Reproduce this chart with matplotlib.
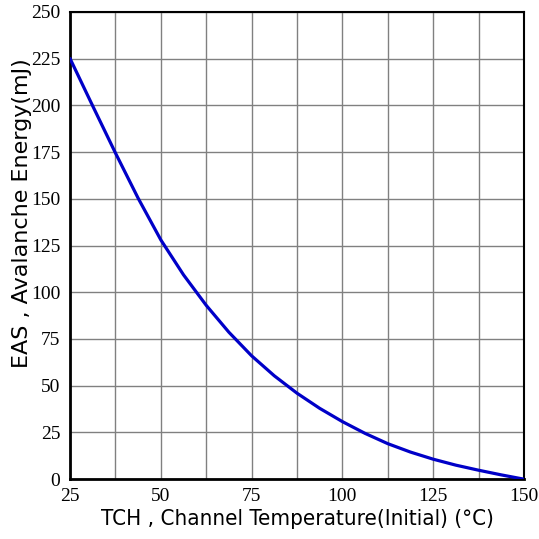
import matplotlib
matplotlib.use("Agg")
import matplotlib.pyplot as plt
from matplotlib.ticker import MultipleLocator
from matplotlib import font_manager as fm

# Data
temp_c = [25, 31.25, 37.5, 43.75, 50, 56.25, 62.5, 68.75, 75, 81.25, 87.5,
          93.75, 100, 106.25, 112.5, 118.75, 125, 131.25, 137.5, 143.75, 150]
eas_mj = [225, 199.6, 174.5, 150.3, 128, 109.3, 93, 78.6, 66, 55.3, 46,
          37.9, 30.8, 24.5, 19, 14.5, 10.7, 7.5, 4.8, 2.3, 0]
x_ticks = [25, 50, 75, 100, 125, 150]
y_ticks = [0, 25, 50, 75, 100, 125, 150, 175, 200, 225, 250]

fig = plt.figure(figsize=(5.39, 5.39), dpi=100)
ax = fig.add_axes([0.130, 0.111, 0.842, 0.867])

ax.plot(temp_c, eas_mj, color="#0000C8", lw=2.3, zorder=3,
        solid_joinstyle="round", solid_capstyle="round")

ax.set_xlim(25, 150)
ax.set_ylim(0, 250)
ax.set_xticks(x_ticks)
ax.set_yticks(y_ticks)
ax.xaxis.set_minor_locator(MultipleLocator(12.5))
ax.grid(True, which="both", color="#808080", lw=1.0)
ax.tick_params(which="both", length=0)
ax.tick_params(axis="x", pad=6)
ax.tick_params(axis="y", pad=7)

for lab in ax.get_xticklabels() + ax.get_yticklabels():
    lab.set_fontfamily(["Liberation Serif"])
    lab.set_fontsize(14)

for s in ["left", "bottom"]:
    ax.spines[s].set_linewidth(2.0)
for s in ["top", "right"]:
    ax.spines[s].set_linewidth(1.5)

# condensed sans for the x label if available
cond_path = fm.findfont(fm.FontProperties(family="DejaVu Sans", stretch="condensed"))
if "Condensed" in cond_path:
    xl_kw = dict(family=["DejaVu Sans"], fontstretch="condensed", fontsize=16)
else:
    xl_kw = dict(family=["DejaVu Sans"], fontsize=13.2)

ax.set_xlabel("TCH , Channel Temperature(Initial) (°C)", labelpad=3, **xl_kw)
ax.set_ylabel("EAS , Avalanche Energy(mJ)", family=["DejaVu Sans"], fontsize=16)
ax.yaxis.set_label_coords(-0.084, 0.57)

fig.savefig("out.png", dpi=100)
